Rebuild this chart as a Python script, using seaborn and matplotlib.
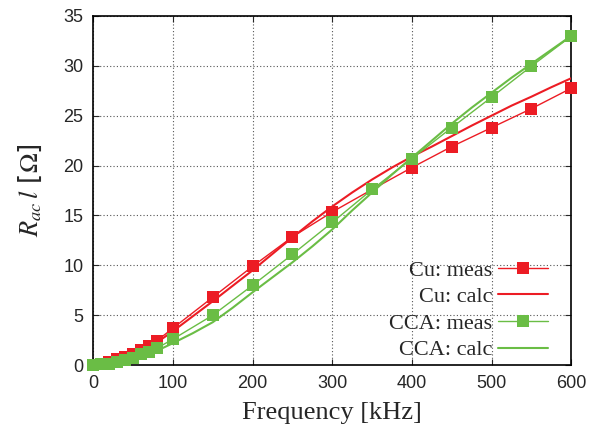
import matplotlib
matplotlib.use("Agg")
import matplotlib.pyplot as plt
import seaborn as sns
import pandas as pd

# ---- data ----
freq_meas = [0, 10, 20, 30, 40, 50, 60, 70, 80, 100, 150, 200, 250, 300, 350, 400, 450, 500, 550, 600]
cu_meas = [0.05, 0.1, 0.35, 0.6, 0.85, 1.1, 1.5, 1.95, 2.45, 3.7, 6.8, 9.9, 12.85, 15.35, 17.6, 19.8, 21.9, 23.8, 25.7, 27.75]
cca_meas = [0.05, 0.1, 0.15, 0.3, 0.52, 0.75, 1.08, 1.35, 1.7, 2.6, 5.0, 8.0, 11.1, 14.3, 17.6, 20.7, 23.8, 26.85, 29.96, 32.97]

freq_calc = [0, 25, 50, 75, 100, 125, 150, 175, 200, 225, 250, 275, 300, 325, 350, 375, 400, 425, 450, 475, 500, 525, 550, 575, 600]
cu_calc = [0, 0.25, 0.9, 2.0, 3.4, 4.9, 6.4, 7.95, 9.5, 11.15, 12.8, 14.4, 15.9, 17.3, 18.6, 19.8, 20.9, 21.9, 22.95, 24.0, 25.0, 26.0, 26.9, 27.85, 28.75]
cca_calc = [0, 0.15, 0.55, 1.25, 2.2, 3.2, 4.3, 5.75, 7.3, 8.8, 10.3, 11.9, 13.6, 15.5, 17.3, 19.1, 20.8, 22.5, 24.2, 25.8, 27.3, 28.8, 30.2, 31.6, 33.0]

labels = ["Cu: meas", "Cu: calc", "CCA: meas", "CCA: calc"]
x_ticks = [0, 100, 200, 300, 400, 500, 600]
y_ticks = [0, 5, 10, 15, 20, 25, 30, 35]

RED = "#EC1C24"
GREEN = "#6ABD45"

sns.set_style("ticks")
plt.rcParams["mathtext.fontset"] = "stix"

fig = plt.figure(figsize=(6.02, 4.28), dpi=100)
ax = fig.add_axes([0.155, 0.147, 0.794, 0.816])

df_meas = pd.DataFrame({"f": freq_meas, "cu": cu_meas, "cca": cca_meas})
df_calc = pd.DataFrame({"f": freq_calc, "cu": cu_calc, "cca": cca_calc})

sns.lineplot(data=df_meas, x="f", y="cu", ax=ax, color=RED, lw=1.0, marker="s",
             markersize=8, markeredgewidth=0, label=labels[0], clip_on=False, zorder=3)
sns.lineplot(data=df_calc, x="f", y="cu", ax=ax, color=RED, lw=1.5, label=labels[1], zorder=3)
sns.lineplot(data=df_meas, x="f", y="cca", ax=ax, color=GREEN, lw=1.0, marker="s",
             markersize=8, markeredgewidth=0, label=labels[2], clip_on=False, zorder=4)
sns.lineplot(data=df_calc, x="f", y="cca", ax=ax, color=GREEN, lw=1.5, label=labels[3], zorder=4)

ax.set_xlim(0, 600)
ax.set_ylim(0, 35)
ax.set_xticks(x_ticks)
ax.set_yticks(y_ticks)
ax.tick_params(direction="in", top=True, right=True, length=4, labelsize=13, pad=7)
for lab in ax.get_xticklabels() + ax.get_yticklabels():
    lab.set_fontfamily("Liberation Sans")
ax.grid(True, linestyle=(0, (1, 2)), color="#555555", lw=0.8)
for s in ax.spines.values():
    s.set_linewidth(1.2)
    s.set_color("black")

ax.set_xlabel("Frequency [kHz]", fontsize=19, family="Liberation Serif", labelpad=7)
ax.set_ylabel(r"$R_{ac}\,l$ [$\Omega$]", fontsize=19, labelpad=14)

leg = ax.legend(loc="lower right", bbox_to_anchor=(0.97, -0.012), frameon=False, markerfirst=False,
                prop={"family": "Liberation Serif", "size": 16}, handlelength=2.25,
                labelspacing=0.27, handletextpad=0.25, borderaxespad=0.0)

fig.savefig("out.png", dpi=100)
